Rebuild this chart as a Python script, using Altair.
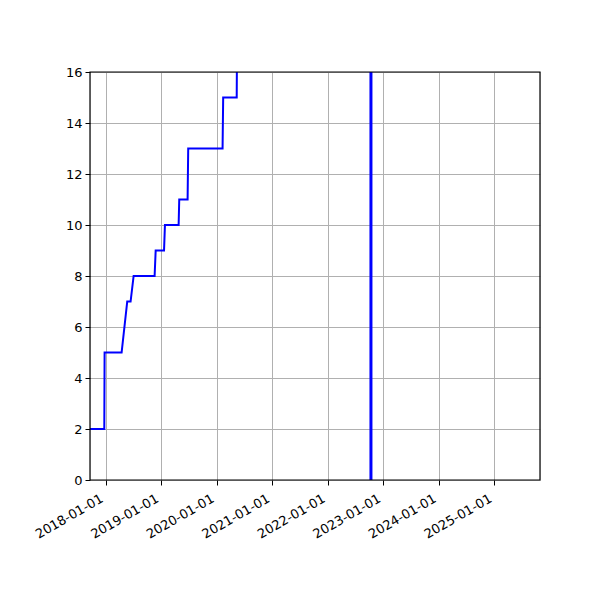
import altair as alt
import pandas as pd

dates = ["2017-09-01", "2017-12-23", "2017-12-25", "2018-04-16", "2018-05-23", "2018-06-14",
         "2018-07-04", "2018-11-19", "2018-11-26", "2019-01-20", "2019-01-26", "2019-04-26",
         "2019-04-30", "2019-06-24", "2019-06-28", "2020-02-09", "2020-02-13", "2020-05-12",
         "2020-05-14"]
values = [2, 2, 5, 5, 7, 7, 8, 8, 9, 9, 10, 10, 11, 11, 13, 13, 15, 15, 17]
vline_dates = ["2022-10-12"]
tick_years = [2018, 2019, 2020, 2021, 2022, 2023, 2024, 2025]
y_ticks = [0, 2, 4, 6, 8, 10, 12, 14, 16]

df = pd.DataFrame({"date": dates, "value": values})
vdf = pd.DataFrame({"date": vline_dates})

font = "DejaVu Sans"
xscale = alt.Scale(type="utc",
                   domain=[alt.DateTime(year=2017, month=9, date=20, utc=True),
                           alt.DateTime(year=2025, month=10, date=28, utc=True)])
xaxis = alt.Axis(values=[alt.DateTime(year=y, month=1, date=1, utc=True) for y in tick_years],
                 labelExpr="utcFormat(datum.value, '%Y-%m-%d')", labelAngle=-30,
                 labelAlign="right", labelBaseline="top", labelOverlap=False,
                 labelOffset=-7, title=None, grid=True,
                 gridColor="#b0b0b0", gridWidth=1, domain=False, tickColor="black",
                 tickSize=5, labelFont=font, labelFontSize=13, labelColor="black",
                 labelPadding=7)
yaxis = alt.Axis(values=y_ticks, title=None, grid=True, gridColor="#b0b0b0", gridWidth=1,
                 domain=False, tickColor="black", tickSize=5, labelFont=font,
                 labelFontSize=13, labelColor="black", labelPadding=3)

line = alt.Chart(df).mark_line(color="#0000ff", strokeWidth=2, clip=True).encode(
    x=alt.X("date:T", scale=xscale, axis=xaxis),
    y=alt.Y("value:Q", scale=alt.Scale(domain=[0, 16], nice=False), axis=yaxis),
)
rule = alt.Chart(vdf).mark_rule(color="#0000ff", strokeWidth=3).encode(
    x=alt.X("date:T", scale=xscale),
)
frame = alt.Chart(vdf).mark_rect(fill=None, stroke="black", strokeWidth=1.2).encode(
    x=alt.value(0), x2=alt.value(450), y=alt.value(0), y2=alt.value(408),
)

chart = alt.layer(line, rule, frame).properties(
    width=450, height=408,
    autosize=alt.AutoSizeParams(type="none"),
    padding={"left": 82, "top": 64, "right": 52, "bottom": 112},
).configure_view(stroke=None).configure(background="white")

chart.save("out.html", embed_options={"renderer": "svg", "actions": False})
